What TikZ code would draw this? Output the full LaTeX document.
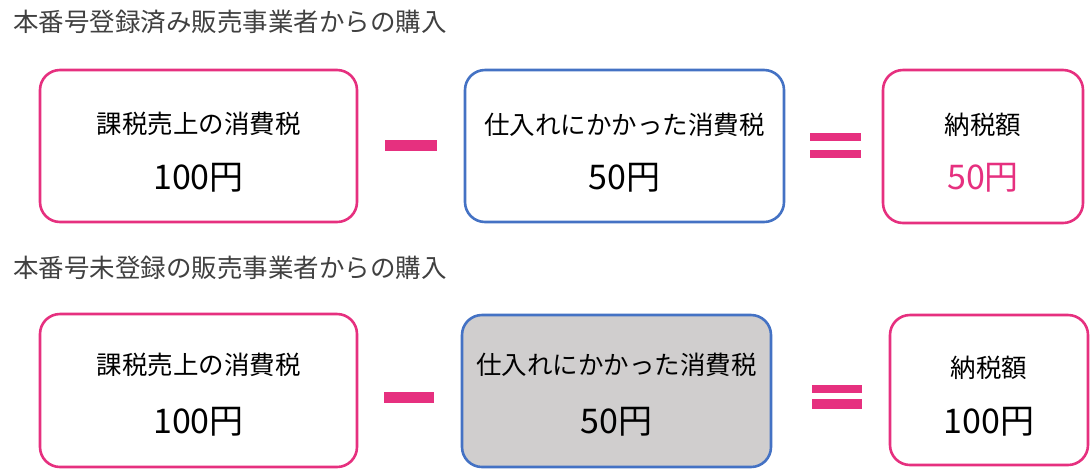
\documentclass[tikz,border=0pt]{standalone}
\usepackage{fontspec}
\newfontfamily\jpfont{Noto Sans CJK JP}
\definecolor{signpink}{HTML}{E6307F}
\definecolor{boxblue}{HTML}{4472C4}
\definecolor{boxgrey}{HTML}{D0CECE}
\definecolor{headgrey}{HTML}{404040}

\begin{document}
\begin{tikzpicture}[%
x=1pt, y=-1pt,
pinkbox/.style={draw=signpink, line width=2.6pt, rounded corners=20pt, fill=white, inner sep=0pt},
bluebox/.style={draw=boxblue, line width=2.6pt, rounded corners=20pt, fill=white, inner sep=0pt},
head/.style={anchor=west, inner sep=0pt, text=headgrey, font=\jpfont\fontsize{25.5}{28}\selectfont},
item/.style={inner sep=0pt, font=\jpfont\fontsize{25.5}{28}\selectfont},
amount/.style={inner sep=0pt, font=\jpfont\fontsize{34}{38}\selectfont},
bar/.style={fill=signpink, inner sep=0pt, minimum width=51pt, minimum height=8pt},
]
\useasboundingbox (0,0) rectangle (1092,475);
%% title;
\node[head] (headA) at (13,22) {本番号登録済み販売事業者からの購入};
%% box;
\node[pinkbox, minimum width=317pt, minimum height=152pt] (salesA) at (198.5,146) {};
\node[bluebox, minimum width=319pt, minimum height=152pt] (inputA) at (624.5,146) {};
\node[pinkbox, minimum width=200pt, minimum height=153pt] (dueA) at (983,146.5) {};
%% label;
\node[item] (salesAlabel) at (198.5,124) {課税売上の消費税};
\node[amount] (salesAvalue) at (198.5,178) {100円};
\node[item] (inputAlabel) at (624.5,125) {仕入れにかかった消費税};
\node[amount] (inputAvalue) at (624.5,178) {50円};
\node[item] (dueAlabel) at (983,125) {納税額};
\node[amount, text=signpink] (dueAvalue) at (983,178) {50円};
%% sign;
\node[bar, minimum width=52pt, minimum height=11pt] (minusA) at (411,145.5) {};
\node[bar] (equalAtop) at (835.5,137) {};
\node[bar] (equalAbottom) at (835.5,154) {};
%% title;
\node[head] (headB) at (13,268) {本番号未登録の販売事業者からの購入};
%% box;
\node[pinkbox, minimum width=317pt, minimum height=153pt] (salesB) at (198.5,390.5) {};
\node[bluebox, fill=boxgrey, minimum width=309pt, minimum height=152pt] (inputB) at (616.5,391) {};
\node[pinkbox, minimum width=198pt, minimum height=150pt] (dueB) at (989,390) {};
%% label;
\node[item] (salesBlabel) at (198.5,365) {課税売上の消費税};
\node[amount] (salesBvalue) at (198.5,422) {100円};
\node[item] (inputBlabel) at (616.5,365) {仕入れにかかった消費税};
\node[amount] (inputBvalue) at (616.5,422) {50円};
\node[item] (dueBlabel) at (989,368) {納税額};
\node[amount] (dueBvalue) at (989,422) {100円};
%% sign;
\node[bar, minimum width=50pt, minimum height=11pt] (minusB) at (409,397.5) {};
\node[bar, minimum width=50pt] (equalBtop) at (837,389) {};
\node[bar, minimum width=50pt, minimum height=10pt] (equalBbottom) at (837,404) {};
\end{tikzpicture}
\end{document}
